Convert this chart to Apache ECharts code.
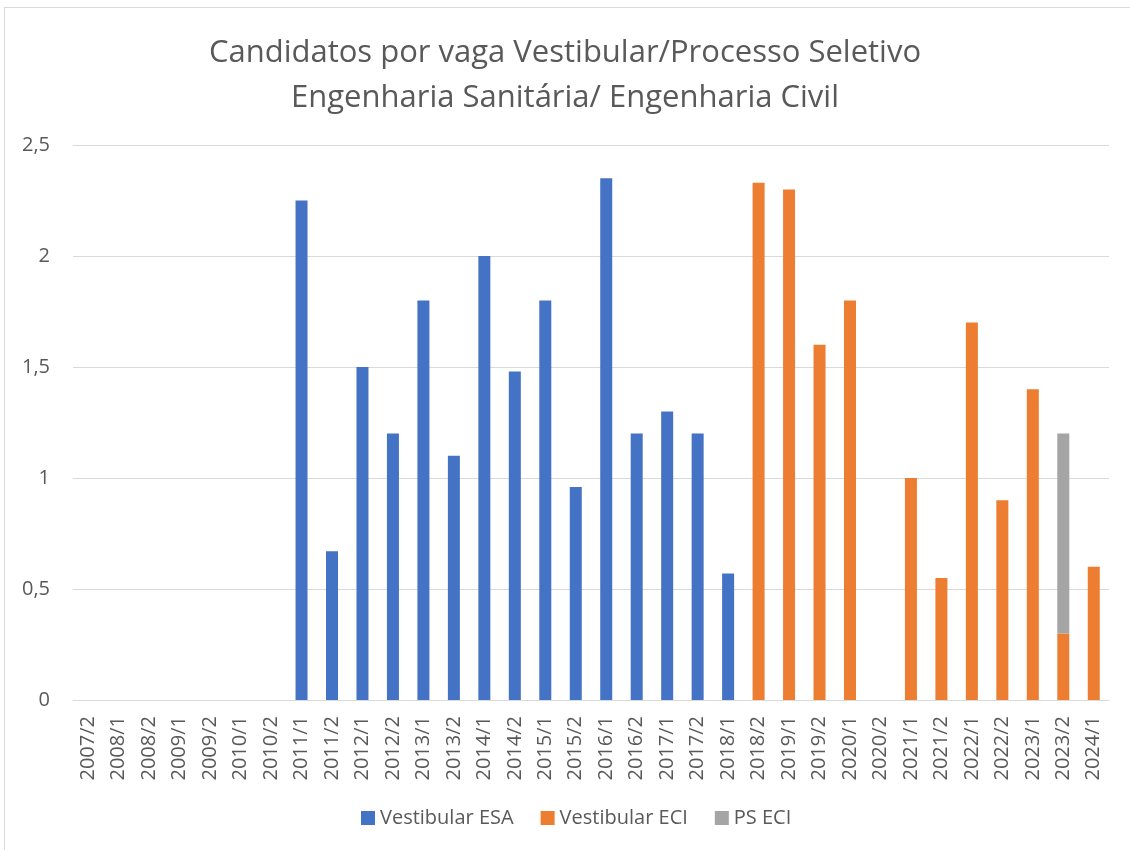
<!DOCTYPE html>
<html>
<head>
<meta charset="utf-8">
<script src="https://cdn.jsdelivr.net/npm/echarts@6/dist/echarts.min.js"></script>
<style>
  html, body { margin: 0; padding: 0; background: #fff; }
  #frame { position: absolute; left: 4px; top: 7px; width: 1140px; height: 860px;
           border-left: 1px solid #d9d9d9; border-top: 1px solid #d9d9d9; }
  #chart { position: absolute; left: 0; top: 0; width: 1130px; height: 850px; }
</style>
</head>
<body>
<div id="frame"></div>
<div id="chart"></div>
<script>
var categories = ['2007/2', '2008/1', '2008/2', '2009/1', '2009/2', '2010/1', '2010/2',
    '2011/1', '2011/2', '2012/1', '2012/2', '2013/1', '2013/2', '2014/1', '2014/2',
    '2015/1', '2015/2', '2016/1', '2016/2', '2017/1', '2017/2', '2018/1', '2018/2',
    '2019/1', '2019/2', '2020/1', '2020/2', '2021/1', '2021/2', '2022/1', '2022/2',
    '2023/1', '2023/2', '2024/1'];

var vestibularESA = [null, null, null, null, null, null, null,
    2.25, 0.67, 1.5, 1.2, 1.8, 1.1, 2, 1.48,
    1.8, 0.96, 2.35, 1.2, 1.3, 1.2, 0.57, null,
    null, null, null, null, null, null, null, null,
    null, null, null];

var vestibularECI = [null, null, null, null, null, null, null,
    null, null, null, null, null, null, null, null,
    null, null, null, null, null, null, null, 2.33,
    2.3, 1.6, 1.8, null, 1, 0.55, 1.7, 0.9,
    1.4, 0.3, 0.6];

var psECI = [null, null, null, null, null, null, null,
    null, null, null, null, null, null, null, null,
    null, null, null, null, null, null, null, null,
    null, null, null, null, null, null, null, null,
    null, 0.9, null];

var chart = echarts.init(document.getElementById('chart'));

var textColor = '#595959';
var fontFamily = '"Open Sans", "Noto Sans", sans-serif';

var option = {
    backgroundColor: 'transparent',
    animation: false,
    title: {
        text: 'Candidatos por vaga Vestibular/Processo Seletivo\nEngenharia Sanitária/ Engenharia Civil',
        left: 'center',
        top: 26,
        textStyle: {
            color: textColor,
            fontFamily: fontFamily,
            fontWeight: 'normal',
            fontSize: 31,
            lineHeight: 45
        }
    },
    legend: {
        bottom: 17,
        left: 356,
        itemWidth: 14,
        itemHeight: 14,
        itemGap: 27,
        icon: 'rect',
        textStyle: { color: textColor, fontFamily: fontFamily, fontSize: 20 },
        data: ['Vestibular ESA', 'Vestibular ECI', 'PS ECI']
    },
    grid: {
        left: 73,
        right: 21,
        top: 145,
        bottom: 150
    },
    xAxis: {
        type: 'category',
        data: categories,
        axisLine: { lineStyle: { color: '#d9d9d9', width: 1 } },
        axisTick: { show: false },
        axisLabel: {
            rotate: 90,
            interval: 0,
            margin: 16,
            color: textColor,
            fontFamily: fontFamily,
            fontSize: 20
        }
    },
    yAxis: {
        type: 'value',
        min: 0,
        max: 2.5,
        interval: 0.5,
        axisLine: { show: false },
        axisTick: { show: false },
        splitLine: { lineStyle: { color: '#d9d9d9', width: 1 } },
        axisLabel: {
            margin: 23,
            color: textColor,
            fontFamily: fontFamily,
            fontSize: 20,
            formatter: function (v) { return String(v).replace('.', ','); }
        }
    },
    series: [
        {
            name: 'Vestibular ESA',
            type: 'bar',
            stack: 'total',
            barWidth: 12,
            itemStyle: { color: '#4472c4' },
            data: vestibularESA
        },
        {
            name: 'Vestibular ECI',
            type: 'bar',
            stack: 'total',
            barWidth: 12,
            itemStyle: { color: '#ed7d31' },
            data: vestibularECI
        },
        {
            name: 'PS ECI',
            type: 'bar',
            stack: 'total',
            barWidth: 12,
            itemStyle: { color: '#a5a5a5' },
            data: psECI
        }
    ]
};

chart.setOption(option);
</script>
</body>
</html>
